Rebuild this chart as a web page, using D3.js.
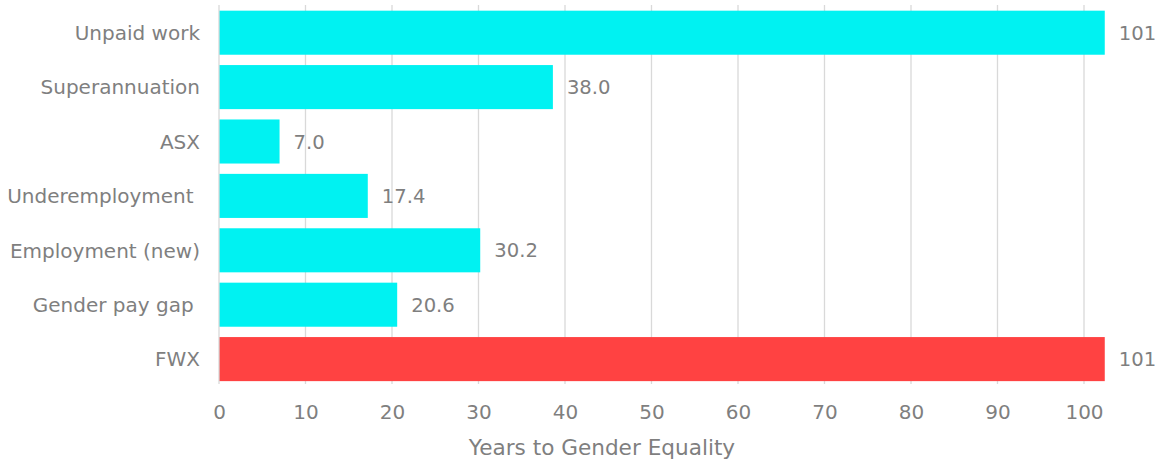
<!DOCTYPE html>
<html>
<head>
<meta charset="utf-8">
<script src="https://cdn.jsdelivr.net/npm/d3@7"></script>
<style>
  body { margin: 0; background: #fff; }
  text { font-family: "DejaVu Sans", Verdana, sans-serif; fill: #7f7f7f; white-space: pre; }
</style>
</head>
<body>
<div class="chart"></div>
<script>
// data
var categories = ["Unpaid work", "Superannuation", "ASX", "Underemployment ", "Employment (new)", "Gender pay gap ", "FWX"];
var values = [102.4, 38.6, 7.0, 17.2, 30.2, 20.6, 102.4];
var valueLabels = ["101", "38.0", "7.0", "17.4", "30.2", "20.6", "101"];
var barColors = ["#00f2f2", "#00f2f2", "#00f2f2", "#00f2f2", "#00f2f2", "#00f2f2", "#ff4242"];
var xTicks = [0, 10, 20, 30, 40, 50, 60, 70, 80, 90, 100];
var xTitle = "Years to Gender Equality";

var svgWidth = 1173;
var svgHeight = 462;

var svg = d3.select(".chart")
  .append("svg")
  .attr("width", svgWidth)
  .attr("height", svgHeight);

// x: 0 at 219px, 100 at 1084px
var x = d3.scaleLinear()
  .domain([0, 100])
  .range([219, 1084]);

var y = d3.scaleBand()
  .domain(categories)
  .range([5.5, 386.3])
  .paddingInner(0.19)
  .paddingOuter(0.095);

var gridTop = 5;
var gridBottom = 384;

// gridlines
svg.append("g")
  .selectAll("line")
  .data(xTicks.slice(1))
  .enter()
  .append("line")
  .attr("x1", d => x(d))
  .attr("x2", d => x(d))
  .attr("y1", gridTop)
  .attr("y2", gridBottom)
  .attr("stroke", "#d9d9d9")
  .attr("stroke-width", 1.3);

// bars
svg.append("g")
  .selectAll("rect")
  .data(values)
  .enter()
  .append("rect")
  .attr("x", x(0))
  .attr("y", (d, i) => y(categories[i]))
  .attr("width", d => x(d) - x(0))
  .attr("height", y.bandwidth())
  .attr("fill", (d, i) => barColors[i]);

// vertical axis line
svg.append("line")
  .attr("x1", x(0))
  .attr("x2", x(0))
  .attr("y1", gridTop)
  .attr("y2", gridBottom)
  .attr("stroke", "#d9d9d9")
  .attr("stroke-width", 1.3);

// value labels
svg.append("g")
  .selectAll("text")
  .data(values)
  .enter()
  .append("text")
  .attr("x", d => x(d) + 14)
  .attr("y", (d, i) => y(categories[i]) + y.bandwidth() / 2)
  .attr("dy", "0.36em")
  .attr("font-size", "19.6px")
  .text((d, i) => valueLabels[i]);

// category labels
svg.append("g")
  .selectAll("text")
  .data(categories)
  .enter()
  .append("text")
  .attr("x", 200)
  .attr("y", d => y(d) + y.bandwidth() / 2)
  .attr("dy", "0.36em")
  .attr("text-anchor", "end")
  .attr("font-size", "20px")
  .text(d => d);

// bottom axis
var bottomAxis = d3.axisBottom(x)
  .tickValues(xTicks)
  .tickSize(0)
  .tickPadding(0);

var axisG = svg.append("g")
  .attr("transform", "translate(0, 419)")
  .call(bottomAxis);

axisG.select(".domain").remove();
axisG.selectAll("text")
  .attr("dy", 0)
  .attr("y", 0)
  .attr("font-size", "20px")
  .attr("font-family", null)
  .attr("fill", null);
axisG.attr("font-family", null).attr("font-size", null);

// axis title
svg.append("text")
  .attr("x", (467 + 737) / 2)
  .attr("y", 455)
  .attr("text-anchor", "middle")
  .attr("font-size", "21.6px")
  .text(xTitle);
</script>
</body>
</html>
